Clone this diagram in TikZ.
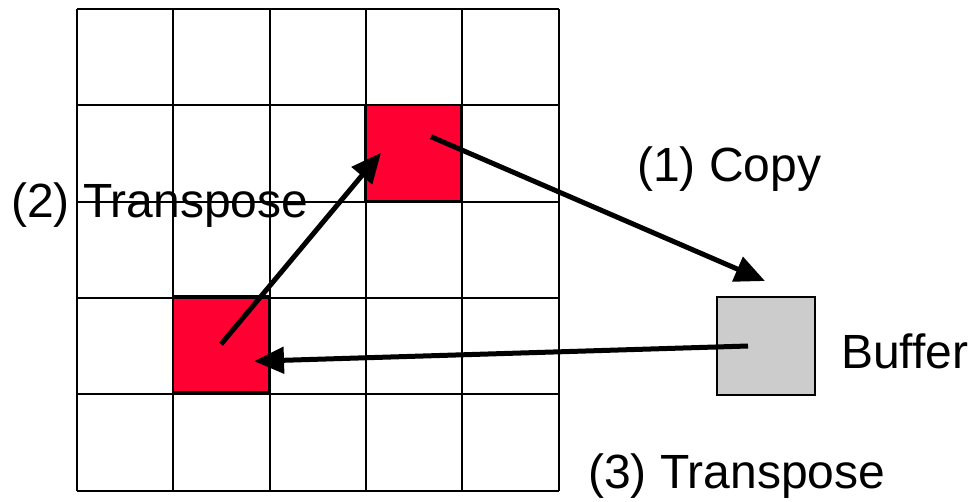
\documentclass[tikz,border=0pt]{standalone}
\usepackage{fontspec}
\setmainfont{Liberation Sans}
\usepackage{tikz}
\usetikzlibrary{arrows.meta,calc}
\definecolor{cellred}{RGB}{255,0,51}
\definecolor{bufgray}{RGB}{204,204,204}

\begin{document}
\begin{tikzpicture}[
  x=1pt,y=-1pt,
  lbl/.style={font=\fontsize{48}{58}\selectfont,inner sep=0pt,anchor=base west},
  box/.style={rectangle,draw,line width=2pt,inner sep=0pt,minimum size=96.3pt},
  gridline/.style={line width=2pt},
  arr/.style={-{Triangle[length=30pt,width=26pt]},line width=5pt}
]
\useasboundingbox (0,0) rectangle (974,501);

\node[box,fill=cellred] (src) at (413,152.7) {};
\node[box,fill=cellred] (dst) at (221,344.2) {};
\node[box,fill=bufgray,minimum size=98pt] (buf) at (766,346) {};

\foreach \i in {0,...,5} {
  \draw[gridline] (77+96.3*\i,9) -- (77+96.3*\i,490.5);
  \draw[gridline] (77,9+96.3*\i) -- (558.5,9+96.3*\i);
}

\coordinate (srcout) at ($(src.center)+(18,-16)$);
\coordinate (srcin) at ($(src.center)+(-32,0)$);
\coordinate (bufin) at ($(buf.north)+(-1,-15)$);
\coordinate (bufout) at ($(buf.center)+(-18,0)$);
\coordinate (dstin) at ($(dst.center)+(33,17)$);

\draw[arr] (srcout) -- (bufin);
\draw[arr] (dst.center) -- (srcin);
\draw[arr] (bufout) -- (dstin);

\node[lbl] (copy) at (637,181) {(1) Copy};
\node[lbl] (tr2) at (11,217) {(2) Transpose};
\node[lbl] (tr3) at (588,488) {(3) Transpose};
\node[lbl] (buflbl) at (841,368) {Buffer};
\end{tikzpicture}
\end{document}
